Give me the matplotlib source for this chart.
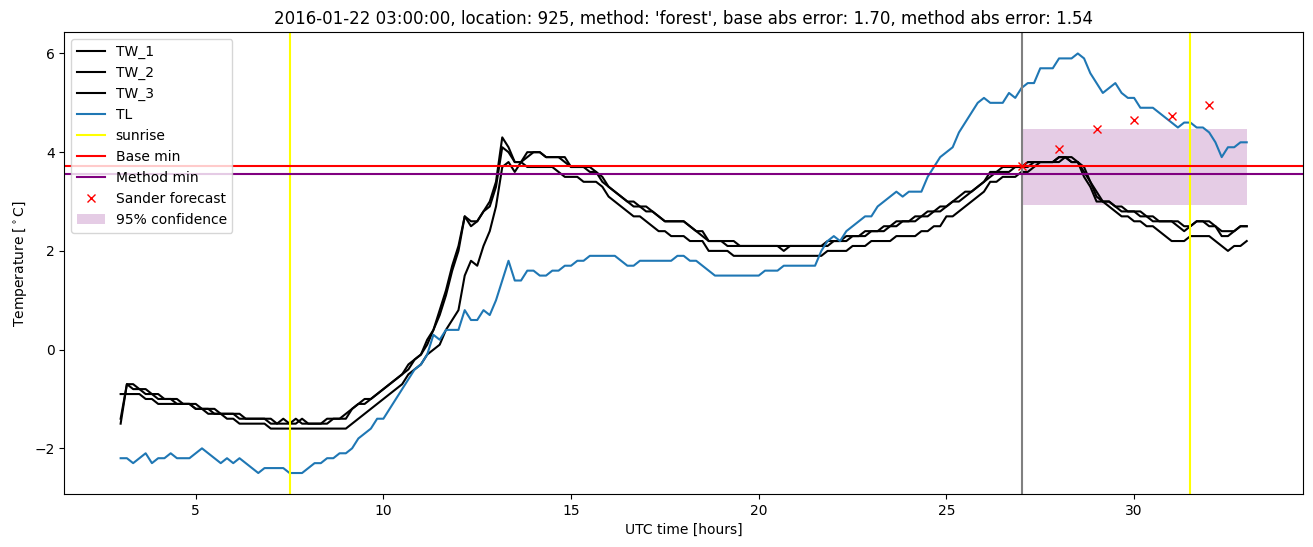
import numpy as np
import matplotlib
matplotlib.use("Agg")
import matplotlib.pyplot as plt

# time grid: 10-minute samples from 03:00 to 33:00 (hours since start of day)
t_start, t_step, n_samples = 3.0, 1.0 / 6.0, 181
time_h = t_start + t_step * np.arange(n_samples)

TW_1 = [
    -1.5, -0.7, -0.7, -0.8, -0.8, -0.9,
    -0.9, -1.0, -1.0, -1.1, -1.1, -1.1,
    -1.2, -1.2, -1.2, -1.2, -1.3, -1.3,
    -1.3, -1.3, -1.4, -1.4, -1.4, -1.4,
    -1.4, -1.5, -1.4, -1.5, -1.5, -1.4,
    -1.5, -1.5, -1.5, -1.4, -1.4, -1.4,
    -1.3, -1.2, -1.1, -1.0, -1.0, -0.9,
    -0.8, -0.7, -0.6, -0.5, -0.3, -0.2,
    -0.1, 0.1, 0.4, 0.7, 1.1, 1.6,
    2.0, 2.7, 2.6, 2.6, 2.8, 3.0,
    3.4, 4.3, 4.1, 3.8, 3.8, 4.0,
    4.0, 4.0, 3.9, 3.9, 3.9, 3.9,
    3.7, 3.7, 3.7, 3.6, 3.6, 3.4,
    3.3, 3.2, 3.1, 3.0, 2.9, 2.9,
    2.9, 2.8, 2.7, 2.6, 2.6, 2.6,
    2.6, 2.5, 2.4, 2.4, 2.2, 2.2,
    2.2, 2.1, 2.1, 2.1, 2.1, 2.1,
    2.1, 2.1, 2.1, 2.1, 2.0, 2.1,
    2.1, 2.1, 2.1, 2.1, 2.1, 2.1,
    2.2, 2.2, 2.3, 2.3, 2.3, 2.4,
    2.4, 2.4, 2.5, 2.5, 2.6, 2.6,
    2.6, 2.7, 2.7, 2.8, 2.8, 2.9,
    2.9, 3.0, 3.1, 3.2, 3.2, 3.3,
    3.4, 3.6, 3.6, 3.7, 3.7, 3.7,
    3.7, 3.8, 3.8, 3.8, 3.8, 3.8,
    3.9, 3.9, 3.8, 3.8, 3.6, 3.4,
    3.1, 3.0, 3.0, 2.9, 2.8, 2.8,
    2.8, 2.7, 2.7, 2.6, 2.6, 2.6,
    2.6, 2.6, 2.5, 2.5, 2.6, 2.6,
    2.5, 2.5, 2.4, 2.4, 2.4, 2.5,
    2.5,
]

TW_2 = [
    -1.4, -0.7, -0.8, -0.8, -0.9, -0.9,
    -1.0, -1.0, -1.0, -1.0, -1.1, -1.1,
    -1.1, -1.2, -1.2, -1.3, -1.3, -1.3,
    -1.3, -1.4, -1.4, -1.4, -1.4, -1.4,
    -1.5, -1.5, -1.5, -1.5, -1.4, -1.5,
    -1.5, -1.5, -1.5, -1.5, -1.4, -1.4,
    -1.4, -1.2, -1.1, -1.1, -1.0, -0.9,
    -0.8, -0.7, -0.6, -0.5, -0.4, -0.2,
    -0.1, 0.2, 0.4, 0.8, 1.2, 1.7,
    2.1, 2.7, 2.5, 2.6, 2.8, 2.9,
    3.3, 4.1, 4.0, 3.8, 3.8, 3.9,
    4.0, 4.0, 3.9, 3.9, 3.9, 3.8,
    3.7, 3.7, 3.7, 3.7, 3.6, 3.5,
    3.3, 3.2, 3.1, 3.0, 3.0, 2.9,
    2.8, 2.8, 2.7, 2.6, 2.6, 2.6,
    2.6, 2.5, 2.4, 2.3, 2.2, 2.2,
    2.2, 2.2, 2.2, 2.1, 2.1, 2.1,
    2.1, 2.1, 2.1, 2.1, 2.1, 2.1,
    2.1, 2.1, 2.1, 2.1, 2.1, 2.2,
    2.2, 2.2, 2.2, 2.3, 2.3, 2.3,
    2.4, 2.4, 2.4, 2.5, 2.5, 2.6,
    2.6, 2.6, 2.7, 2.7, 2.8, 2.8,
    2.9, 3.0, 3.0, 3.1, 3.2, 3.3,
    3.4, 3.5, 3.6, 3.6, 3.6, 3.7,
    3.7, 3.7, 3.8, 3.8, 3.8, 3.8,
    3.8, 3.9, 3.9, 3.8, 3.7, 3.4,
    3.2, 3.0, 3.0, 2.9, 2.9, 2.8,
    2.8, 2.8, 2.7, 2.7, 2.6, 2.6,
    2.6, 2.5, 2.4, 2.5, 2.6, 2.6,
    2.6, 2.5, 2.3, 2.3, 2.4, 2.5,
    2.5,
]

TW_3 = [
    -0.9, -0.9, -0.9, -0.9, -1.0, -1.0,
    -1.1, -1.1, -1.1, -1.1, -1.1, -1.1,
    -1.2, -1.2, -1.3, -1.3, -1.3, -1.4,
    -1.4, -1.5, -1.5, -1.5, -1.5, -1.5,
    -1.6, -1.6, -1.6, -1.6, -1.6, -1.6,
    -1.6, -1.6, -1.6, -1.6, -1.6, -1.6,
    -1.6, -1.5, -1.4, -1.3, -1.2, -1.1,
    -1.0, -0.9, -0.8, -0.7, -0.5, -0.4,
    -0.3, -0.1, 0.0, 0.1, 0.4, 0.6,
    0.8, 1.5, 1.8, 1.7, 2.1, 2.4,
    2.9, 3.7, 3.8, 3.6, 3.8, 3.7,
    3.7, 3.7, 3.7, 3.7, 3.6, 3.5,
    3.5, 3.5, 3.4, 3.4, 3.4, 3.3,
    3.1, 3.0, 2.9, 2.8, 2.7, 2.7,
    2.6, 2.5, 2.4, 2.4, 2.3, 2.3,
    2.3, 2.2, 2.2, 2.2, 2.0, 2.0,
    2.0, 2.0, 1.9, 1.9, 1.9, 1.9,
    1.9, 1.9, 1.9, 1.9, 1.9, 1.9,
    1.9, 1.9, 1.9, 1.9, 1.9, 2.0,
    2.0, 2.0, 2.0, 2.1, 2.1, 2.1,
    2.2, 2.2, 2.2, 2.2, 2.3, 2.3,
    2.3, 2.3, 2.4, 2.4, 2.5, 2.5,
    2.7, 2.7, 2.8, 2.9, 3.0, 3.1,
    3.2, 3.4, 3.4, 3.5, 3.5, 3.5,
    3.6, 3.6, 3.7, 3.8, 3.8, 3.8,
    3.9, 3.9, 3.8, 3.8, 3.5, 3.3,
    3.0, 3.0, 2.9, 2.8, 2.7, 2.7,
    2.6, 2.6, 2.5, 2.5, 2.4, 2.3,
    2.2, 2.2, 2.2, 2.3, 2.3, 2.3,
    2.3, 2.2, 2.1, 2.0, 2.1, 2.1,
    2.2,
]

TL = [
    -2.2, -2.2, -2.3, -2.2, -2.1, -2.3,
    -2.2, -2.2, -2.1, -2.2, -2.2, -2.2,
    -2.1, -2.0, -2.1, -2.2, -2.3, -2.2,
    -2.3, -2.2, -2.3, -2.4, -2.5, -2.4,
    -2.4, -2.4, -2.4, -2.5, -2.5, -2.5,
    -2.4, -2.3, -2.3, -2.2, -2.2, -2.1,
    -2.1, -2.0, -1.8, -1.7, -1.6, -1.4,
    -1.4, -1.2, -1.0, -0.8, -0.6, -0.4,
    -0.3, -0.1, 0.3, 0.2, 0.4, 0.4,
    0.4, 0.8, 0.6, 0.6, 0.8, 0.7,
    1.0, 1.4, 1.8, 1.4, 1.4, 1.6,
    1.6, 1.5, 1.5, 1.6, 1.6, 1.7,
    1.7, 1.8, 1.8, 1.9, 1.9, 1.9,
    1.9, 1.9, 1.8, 1.7, 1.7, 1.8,
    1.8, 1.8, 1.8, 1.8, 1.8, 1.9,
    1.9, 1.8, 1.8, 1.7, 1.6, 1.5,
    1.5, 1.5, 1.5, 1.5, 1.5, 1.5,
    1.5, 1.6, 1.6, 1.6, 1.7, 1.7,
    1.7, 1.7, 1.7, 1.7, 2.0, 2.2,
    2.3, 2.2, 2.4, 2.5, 2.6, 2.7,
    2.7, 2.9, 3.0, 3.1, 3.2, 3.1,
    3.2, 3.2, 3.2, 3.5, 3.7, 3.9,
    4.0, 4.1, 4.4, 4.6, 4.8, 5.0,
    5.1, 5.0, 5.0, 5.0, 5.2, 5.1,
    5.3, 5.4, 5.4, 5.7, 5.7, 5.7,
    5.9, 5.9, 5.9, 6.0, 5.9, 5.6,
    5.4, 5.2, 5.3, 5.4, 5.2, 5.1,
    5.1, 4.9, 4.9, 4.9, 4.8, 4.7,
    4.6, 4.5, 4.6, 4.6, 4.5, 4.5,
    4.4, 4.2, 3.9, 4.1, 4.1, 4.2,
    4.2,
]

sunrise_hours = [7.5, 31.5]
forecast_start = 27.0
base_min = 3.72
method_min = 3.56
forecast_hours = [27, 28, 29, 30, 31, 32]
forecast_values = [3.72, 4.07, 4.46, 4.66, 4.74, 4.95]
conf_hours = [27.0, 33.0]
conf_low = 2.92
conf_high = 4.46

title = ("2016-01-22 03:00:00, location: 925, method: 'forest', "
         "base abs error: 1.70, method abs error: 1.54")

fig = plt.figure(figsize=(13.13, 5.47), dpi=100)
ax = fig.add_subplot(111)
fig.subplots_adjust(left=0.049, right=0.9924, top=0.9406, bottom=0.0969)

ax.plot(time_h, TW_1, color="black", label="TW_1")
ax.plot(time_h, TW_2, color="black", label="TW_2")
ax.plot(time_h, TW_3, color="black", label="TW_3")
ax.plot(time_h, TL, color="C0", label="TL")
for i, s in enumerate(sunrise_hours):
    ax.axvline(s, color="yellow", label="sunrise" if i == 0 else None)
ax.axvline(forecast_start, color="gray")
ax.axhline(base_min, color="red", label="Base min")
ax.axhline(method_min, color="purple", label="Method min")
ax.plot(forecast_hours, forecast_values, "x", color="red", label="Sander forecast")
ax.fill_between(conf_hours, [conf_low] * 2, [conf_high] * 2,
                color="purple", alpha=0.2, linewidth=0, label="95% confidence")

ax.set_xlim(1.5, 34.5)
ax.set_ylim(-2.925, 6.425)
ax.set_xlabel("UTC time [hours]")
ax.set_ylabel(r"Temperature [$^\circ$C]")
ax.set_title(title)
ax.legend(loc="upper left")

fig.savefig("out.png", dpi=100)
